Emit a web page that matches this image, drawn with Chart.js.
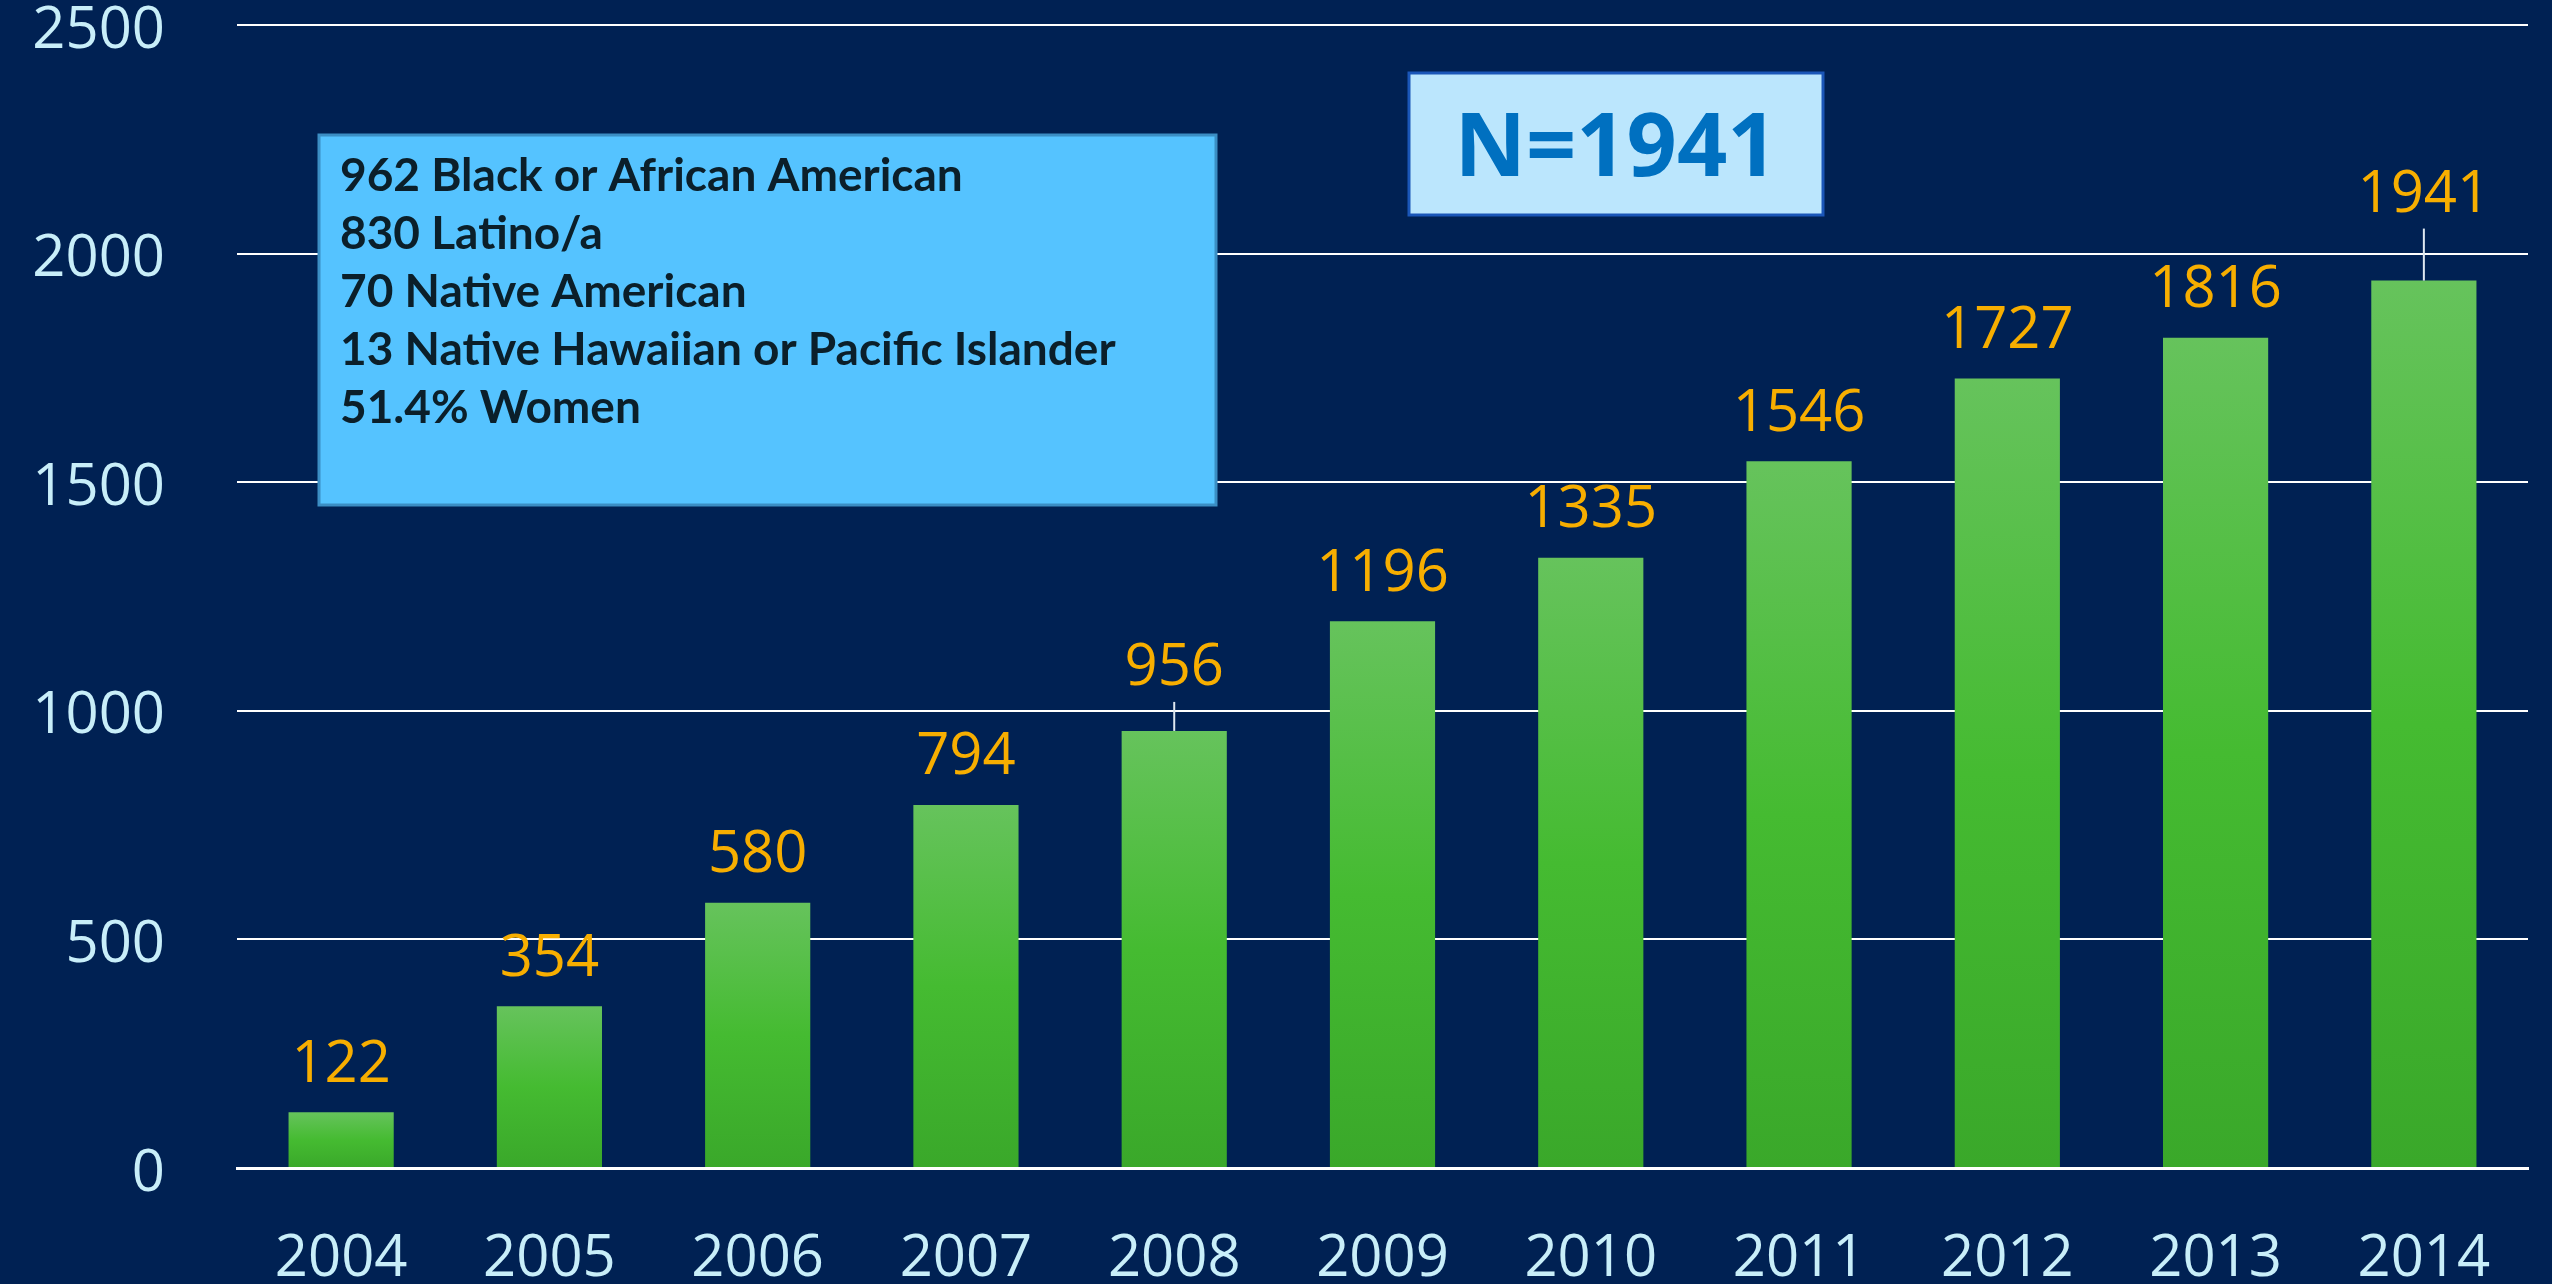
<!DOCTYPE html>
<html>
<head>
<meta charset="utf-8">
<script src="https://cdn.jsdelivr.net/npm/chart.js@4.4.0/dist/chart.umd.min.js"></script>
<style>
  html, body { margin: 0; padding: 0; background: #002153; }
  #wrap { width: 2552px; height: 1284px; position: relative; }
</style>
</head>
<body>
<div id="wrap"><canvas id="chart"></canvas></div>
<script>
const years = ['2004', '2005', '2006', '2007', '2008', '2009', '2010', '2011', '2012', '2013', '2014'];
const participants = [122, 354, 580, 794, 956, 1196, 1335, 1546, 1727, 1816, 1941];
const yMin = 0;
const yMax = 2500;
const yStep = 500;
const boxLines = [
    '962 Black or African American',
    '830 Latino/a',
    '70 Native American',
    '13 Native Hawaiian or Pacific Islander',
    '51.4% Women'
];
const totalLabel = 'N=1941';

const tickColor = '#c8eef9';
const tickFont = { family: '"Open Sans", sans-serif', size: 58, lineHeight: 0.85 };

const barGradient = (context) => {
    const chart = context.chart;
    const y = chart.scales.y;
    if (!y || context.dataIndex === undefined) return '#45bb31';
    const top = y.getPixelForValue(participants[context.dataIndex]);
    const bottom = y.getPixelForValue(0);
    if (!isFinite(top) || !isFinite(bottom) || top === bottom) return '#45bb31';
    const g = chart.ctx.createLinearGradient(0, top, 0, bottom);
    g.addColorStop(0, '#66c35c');
    g.addColorStop(0.5, '#45bb31');
    g.addColorStop(1, '#3aa82a');
    return g;
};

// value labels above bars, with the two leader lines
const valueLabels = {
    id: 'valueLabels',
    afterDatasetsDraw(chart, args, opts) {
        const ctx = chart.ctx;
        const meta = chart.getDatasetMeta(0);
        ctx.save();
        ctx.font = '58px "Open Sans", sans-serif';
        ctx.fillStyle = '#f7ae00';
        ctx.textAlign = 'center';
        ctx.textBaseline = 'middle';
        meta.data.forEach((bar, i) => {
            const lead = opts.leaders[i];
            const off = lead || opts.offset;
            if (lead) {
                ctx.strokeStyle = '#dfe8f0';
                ctx.lineWidth = 2;
                ctx.beginPath();
                ctx.moveTo(bar.x, bar.y);
                ctx.lineTo(bar.x, bar.y - off + 33);
                ctx.stroke();
            }
            ctx.fillText(String(participants[i]), bar.x, bar.y - off);
        });
        ctx.restore();
    }
};

// the two text boxes
const textBoxes = {
    id: 'textBoxes',
    afterDraw(chart) {
        const ctx = chart.ctx;
        ctx.save();

        ctx.fillStyle = '#55c3ff';
        ctx.fillRect(319, 135, 897, 370);
        ctx.strokeStyle = '#3b8ec4';
        ctx.lineWidth = 3;
        ctx.strokeRect(319, 135, 897, 370);
        ctx.fillStyle = '#0b1f2a';
        ctx.font = 'bold 46px Lato, sans-serif';
        ctx.textAlign = 'left';
        ctx.textBaseline = 'middle';
        boxLines.forEach((t, i) => ctx.fillText(t, 340, 176 + i * 58));

        ctx.fillStyle = '#bbe6fd';
        ctx.fillRect(1409, 73, 414, 142);
        ctx.strokeStyle = '#1a56b8';
        ctx.lineWidth = 3;
        ctx.strokeRect(1409, 73, 414, 142);
        ctx.fillStyle = '#0070c0';
        ctx.font = 'bold 88px "Open Sans", sans-serif';
        ctx.textAlign = 'center';
        ctx.fillText(totalLabel, 1616, 151);

        ctx.restore();
    }
};

new Chart(document.getElementById('chart'), {
    type: 'bar',
    data: {
        labels: years,
        datasets: [{
            data: participants,
            backgroundColor: barGradient,
            borderWidth: 0,
            barPercentage: 0.505,
            categoryPercentage: 1
        }]
    },
    options: {
        responsive: true,
        maintainAspectRatio: false,
        animation: false,
        layout: { padding: { top: 25, right: 24, left: 0, bottom: 0 } },
        scales: {
            x: {
                grid: { color: 'transparent', drawTicks: true, tickLength: 67, tickColor: 'transparent' },
                border: { display: true, color: '#ffffff', width: 3 },
                ticks: { color: tickColor, font: tickFont, padding: 0, maxRotation: 0 },
                afterFit: (s) => { s.height = 116; }
            },
            y: {
                min: yMin, max: yMax,
                grid: { color: '#ffffff', lineWidth: 2, drawTicks: true, tickLength: 72, tickColor: 'transparent' },
                border: { display: false },
                ticks: { stepSize: yStep, color: tickColor, font: tickFont, padding: 0, labelOffset: 6, callback: (v) => String(v) },
                afterFit: (s) => { s.width = 237; }
            }
        },
        plugins: {
            legend: { display: false },
            tooltip: { enabled: false },
            valueLabels: { offset: 47, leaders: { 4: 62, 10: 85 } }
        }
    },
    plugins: [valueLabels, textBoxes]
});
</script>
</body>
</html>
